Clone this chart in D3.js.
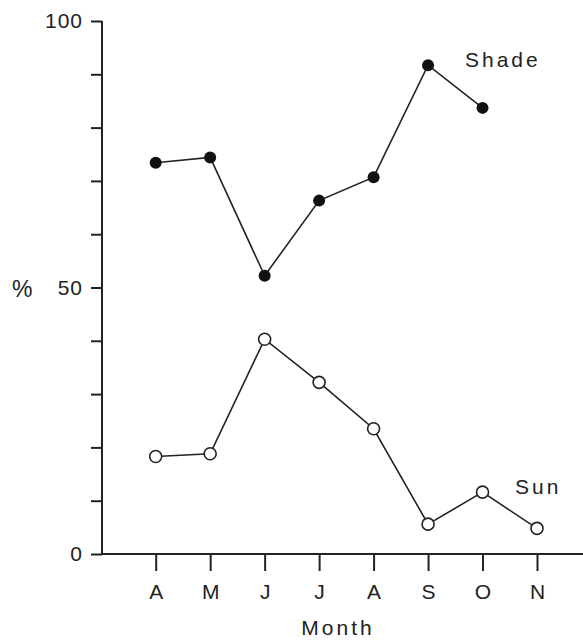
<!DOCTYPE html>
<html>
<head>
<meta charset="utf-8">
<script src="https://cdn.jsdelivr.net/npm/d3@7"></script>
<style>
  body { margin: 0; background: #fff; }
  text { font-family: "Liberation Sans", Arial, Helvetica, sans-serif; fill: #222; }
</style>
</head>
<body>
<div id="container"></div>
<script>
var months = ["A", "M", "J", "J", "A", "S", "O", "N"];
var shade = [73.4, 74.4, 52.2, 66.3, 70.7, 91.7, 83.7];
var sun = [18.3, 18.8, 40.3, 32.2, 23.5, 5.6, 11.6, 4.8];
var yTickValues = [0, 10, 20, 30, 40, 50, 60, 70, 80, 90, 100];
var yTickLabels = [0, 50, 100];

var width = 583, height = 641;

var svg = d3.select("#container").append("svg")
    .attr("width", width)
    .attr("height", height);

var x = d3.scalePoint()
    .domain(d3.range(months.length))
    .range([155.7, 537]);
var y = d3.scaleLinear()
    .domain([0, 100])
    .range([554, 21]);

// y axis
var yAxis = svg.append("g")
    .attr("transform", "translate(102,0)")
    .call(d3.axisLeft(y).tickValues(yTickValues).tickSize(11)
      .tickFormat(function(d) { return yTickLabels.indexOf(d) >= 0 ? d : ""; }));
yAxis.select(".domain").remove();
yAxis.append("line")
    .attr("x1", 0).attr("x2", 0)
    .attr("y1", y(100)).attr("y2", y(0))
    .attr("stroke", "#222").attr("stroke-width", 2);
yAxis.selectAll(".tick line").attr("stroke", "#222").attr("stroke-width", 2);
yAxis.selectAll(".tick text")
    .attr("x", -19)
    .attr("fill", "#222")
    .style("font-size", "21px")
    .style("letter-spacing", "1px");

// x axis
var xAxis = svg.append("g")
    .attr("transform", "translate(0," + y(0) + ")")
    .call(d3.axisBottom(x).tickSize(17).tickFormat(function(i) { return months[i]; }));
xAxis.select(".domain").remove();
xAxis.append("line")
    .attr("x1", 101).attr("x2", width)
    .attr("y1", 0).attr("y2", 0)
    .attr("stroke", "#222").attr("stroke-width", 2);
xAxis.selectAll(".tick line").attr("stroke", "#222").attr("stroke-width", 2);
xAxis.selectAll(".tick text")
    .attr("y", 30)
    .attr("fill", "#222")
    .style("font-size", "21px");

svg.append("text")
    .attr("x", 338).attr("y", 635)
    .attr("text-anchor", "middle")
    .style("font-size", "21px")
    .style("letter-spacing", "3px")
    .text("Month");

svg.append("text")
    .attr("x", 12).attr("y", 297)
    .style("font-size", "23px")
    .text("%");

var line = d3.line()
    .x(function(d, i) { return x(i); })
    .y(function(d) { return y(d); });

svg.append("path")
    .datum(shade)
    .attr("fill", "none")
    .attr("stroke", "#222")
    .attr("stroke-width", 1.6)
    .attr("d", line);
svg.append("path")
    .datum(sun)
    .attr("fill", "none")
    .attr("stroke", "#222")
    .attr("stroke-width", 1.6)
    .attr("d", line);

svg.selectAll(".shade-dot")
    .data(shade)
    .enter().append("circle")
    .attr("class", "shade-dot")
    .attr("cx", function(d, i) { return x(i); })
    .attr("cy", function(d) { return y(d); })
    .attr("r", 6)
    .attr("fill", "#111");

svg.selectAll(".sun-dot")
    .data(sun)
    .enter().append("circle")
    .attr("class", "sun-dot")
    .attr("cx", function(d, i) { return x(i); })
    .attr("cy", function(d) { return y(d); })
    .attr("r", 6)
    .attr("fill", "#fff")
    .attr("stroke", "#222")
    .attr("stroke-width", 1.6);

svg.append("text")
    .attr("x", 465).attr("y", 67)
    .style("font-size", "21px")
    .style("letter-spacing", "3px")
    .text("Shade");
svg.append("text")
    .attr("x", 515).attr("y", 494)
    .style("font-size", "21px")
    .style("letter-spacing", "3px")
    .text("Sun");
</script>
</body>
</html>
